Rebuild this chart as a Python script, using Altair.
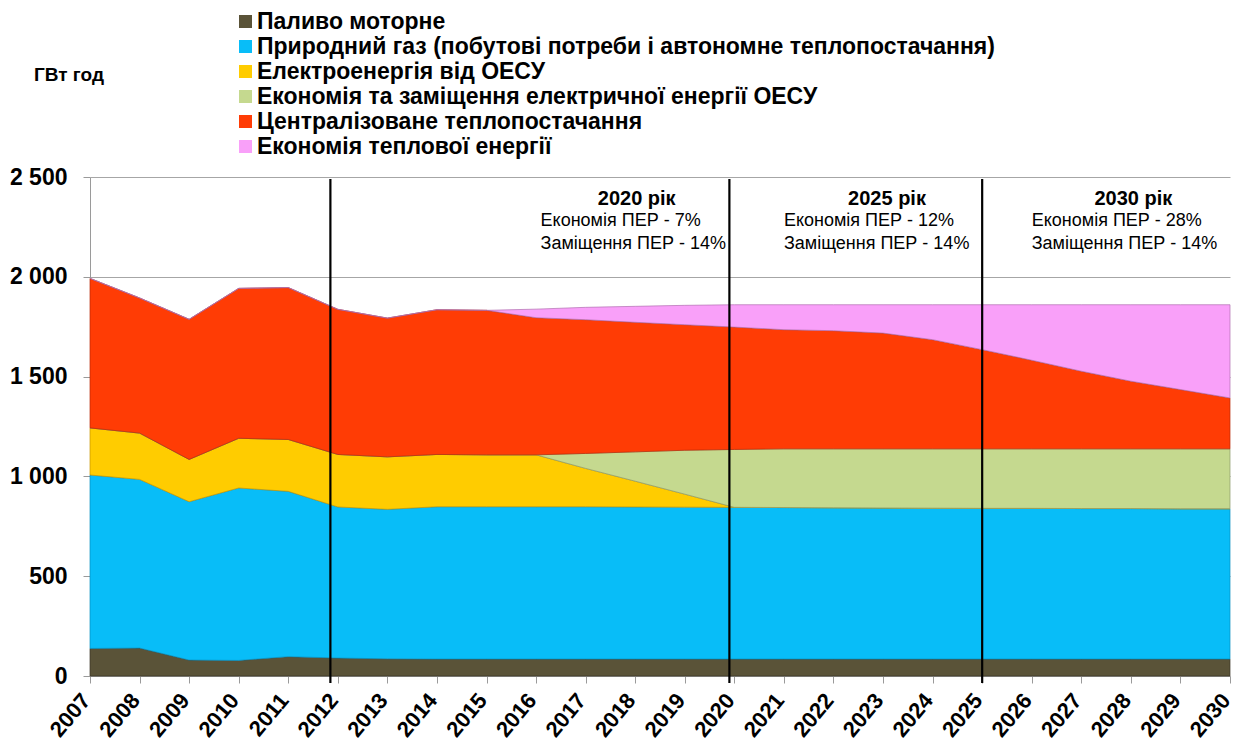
import altair as alt
import pandas as pd

years = list(range(2007, 2031))
year_labels = [str(y) for y in years]

series = [
    "Паливо моторне",
    "Природний газ (побутові потреби і автономне теплопостачання)",
    "Електроенергія від ОЕСУ",
    "Економія та заміщення електричної енергії ОЕСУ",
    "Централізоване теплопостачання",
    "Економія теплової енергії",
]
colors = ["#5a5338", "#08bdf8", "#ffcc00", "#c5d98f", "#ff3c05", "#f9a0f9"]
edge_colors = ["#3a3525", "#0590c0", "#c89600", "#8c9a6a", "#b82a05", "#b070b0"]

motor = [138, 140, 80, 78, 97, 90, 86, 85, 85, 85, 85, 85, 85, 85, 85, 85, 85, 85, 85, 85, 85, 85, 85, 85]
gas = [869, 845, 793, 864, 828, 757, 749, 763, 763, 763, 763, 762, 761, 760, 759, 758, 757, 756, 755, 755, 754, 754, 753, 753]
elec = [236, 232, 212, 249, 260, 263, 263, 262, 260, 260, 192, 129, 65, 0, 0, 0, 0, 0, 0, 0, 0, 0, 0, 0]
elec_saving = [0, 0, 0, 0, 0, 0, 0, 0, 0, 0, 75, 147, 220, 290, 294, 295, 296, 297, 298, 298, 299, 299, 300, 300]
district = [749, 677, 702, 751, 761, 727, 695, 725, 724, 687, 670, 649, 629, 613, 597, 592, 580, 547, 497, 444, 389, 339, 297, 255]
heat_saving = [0, 0, 0, 0, 0, 0, 0, 0, 0, 43, 62, 80, 97, 112, 125, 130, 142, 175, 225, 278, 333, 383, 425, 467]

y_ticks = [0, 500, 1000, 1500, 2000, 2500]

divider_years = [2011.85, 2019.9, 2025.0]

ann_titles = ["2020 рік", "2025 рік", "2030 рік"]
ann_title_x = [2018.03, 2023.08, 2028.05]
ann_line1 = ["Економія ПЕР - 7%", "Економія ПЕР - 12%", "Економія ПЕР - 28%"]
ann_line2 = ["Заміщення ПЕР - 14%", "Заміщення ПЕР - 14%", "Заміщення ПЕР - 14%"]
ann_line_x = [2016.09, 2021.0, 2026.0]

unit_label = "ГВт год"

FONT = "Liberation Sans"
PLOT_W = 1140
PLOT_H = 499

rows = []
for i, (name, vals) in enumerate(zip(series, [motor, gas, elec, elec_saving, district, heat_saving])):
    for yr, v in zip(years, vals):
        rows.append({"year": yr, "series": name, "value": v, "order": i})
df = pd.DataFrame(rows)

x_scale = alt.Scale(domain=[2007, 2030], nice=False, zero=False)
y_scale = alt.Scale(domain=[0, 2500], nice=False)

x_axis = alt.Axis(
    values=years, labels=False, tickSize=7, tickColor="#9a9a9a",
    domainColor="#9a9a9a", grid=False, title=None,
)
y_axis = alt.Axis(
    values=y_ticks, labelExpr="replace(format(datum.value, ','), ',', ' ')",
    labelFont=FONT, labelFontSize=23, labelFontWeight="bold", labelColor="#000000",
    tickSize=7, tickColor="#9a9a9a", domainColor="#9a9a9a", grid=True,
    gridColor="#a6a6a6", labelPadding=16, title=None,
)

areas = alt.Chart(df).mark_area(interpolate="linear", strokeWidth=1, strokeOpacity=0.7).encode(
    x=alt.X("year:Q", scale=x_scale, axis=x_axis),
    y=alt.Y("value:Q", stack="zero", scale=y_scale, axis=y_axis),
    color=alt.Color(
        "series:N",
        scale=alt.Scale(domain=series, range=colors),
        legend=alt.Legend(
            orient="none", legendX=144, legendY=-167, title=None, symbolType="square",
            symbolSize=170, symbolOpacity=1, symbolStrokeWidth=0, labelFont=FONT,
            labelFontSize=23, labelFontWeight="bold", labelColor="#000000",
            rowPadding=1, labelLimit=1200, labelOffset=0, padding=0,
        ),
    ),
    stroke=alt.Stroke("series:N", scale=alt.Scale(domain=series, range=edge_colors), legend=None),
    order=alt.Order("order:Q", sort="ascending"),
)

xlab_df = pd.DataFrame({"year": years, "label": year_labels})
x_labels = alt.Chart(xlab_df).mark_text(
    font=FONT, fontSize=22, fontWeight="bold", color="#000000", angle=310,
    align="right", baseline="middle", dx=-6,
).encode(
    x=alt.X("year:Q", scale=x_scale),
    y=alt.value(PLOT_H + 16),
    text="label:N",
)

div_df = pd.DataFrame({"x": divider_years, "top": [2490] * 3, "bottom": [-35] * 3})
dividers = alt.Chart(div_df).mark_rule(color="#000000", strokeWidth=2.2, clip=False).encode(
    x=alt.X("x:Q", scale=x_scale),
    y=alt.Y("top:Q", scale=y_scale),
    y2="bottom:Q",
)

title_df = pd.DataFrame({"x": ann_title_x, "y": [2390] * 3, "t": ann_titles})
titles = alt.Chart(title_df).mark_text(
    font=FONT, fontSize=20, fontWeight="bold", align="center", baseline="middle", color="#000000"
).encode(x=alt.X("x:Q", scale=x_scale), y=alt.Y("y:Q", scale=y_scale), text="t:N")

line_df = pd.DataFrame({
    "x": ann_line_x + ann_line_x,
    "y": [2280] * 3 + [2165] * 3,
    "t": ann_line1 + ann_line2,
})
lines = alt.Chart(line_df).mark_text(
    font=FONT, fontSize=18, align="left", baseline="middle", color="#000000"
).encode(x=alt.X("x:Q", scale=x_scale), y=alt.Y("y:Q", scale=y_scale), text="t:N")

unit = alt.Chart(pd.DataFrame({"t": [unit_label]})).mark_text(
    font=FONT, fontSize=19, fontWeight="bold", align="center", baseline="middle", color="#000000"
).encode(text="t:N", x=alt.value(-21), y=alt.value(-102))

chart = alt.layer(areas, dividers, x_labels, titles, lines, unit).properties(
    width=PLOT_W, height=PLOT_H,
    autosize=alt.AutoSizeParams(type="none"),
    padding={"left": 82, "top": 169, "right": 6, "bottom": 65},
).configure_view(stroke=None).resolve_scale(color="independent", stroke="independent")

chart.save("out.html", embed_options={"renderer": "svg", "actions": False})
